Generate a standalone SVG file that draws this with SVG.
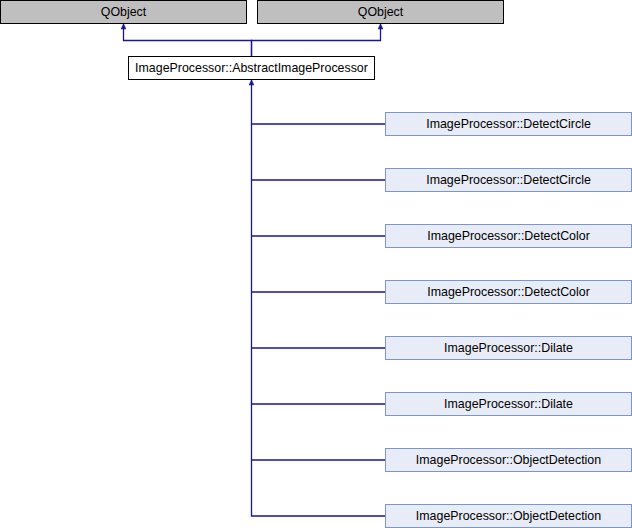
<svg xmlns="http://www.w3.org/2000/svg" width="632" height="528" viewBox="0 0 632 528">
<style>
text{font-family:"Liberation Sans",Arial,sans-serif;font-size:12.4px;fill:#000;text-anchor:middle}
.gray rect{fill:#bfbfbf;stroke:#000;stroke-width:1}
.main rect{fill:#fff;stroke:#000;stroke-width:1}
.child rect{fill:#e8ecf6;stroke:#7b96cf;stroke-width:1}
.edge{fill:none;stroke:#16169a;stroke-width:1.3}
</style>
<defs>
<marker id="ah" viewBox="0 0 10 10" refX="10" refY="5" markerWidth="7" markerHeight="5" markerUnits="userSpaceOnUse" orient="auto"><path d="M0,0 L10,5 L0,10 Z" fill="#16169a" stroke="#16169a"/></marker>
</defs>
<g id="edges">
<path class="edge" d="M251.5,56 V40.5 H123.5 V24" marker-end="url(#ah)"/>
<path class="edge" d="M251.5,56 V40.5 H380.5 V24" marker-end="url(#ah)"/>
<path class="edge" d="M385,124 H251.5 V80" marker-end="url(#ah)"/>
<path class="edge" d="M385,180 H251.5"/>
<path class="edge" d="M385,236 H251.5"/>
<path class="edge" d="M385,292 H251.5"/>
<path class="edge" d="M385,348 H251.5"/>
<path class="edge" d="M385,404 H251.5"/>
<path class="edge" d="M385,460 H251.5"/>
<path class="edge" d="M385,516 H251.5 V124"/>
</g>
<g id="qobject1" class="gray"><rect x="0.5" y="0.5" width="246" height="23"/><text x="123.5" y="15.5">QObject</text></g>
<g id="qobject2" class="gray"><rect x="257.5" y="0.5" width="246" height="23"/><text x="380.5" y="15.5">QObject</text></g>
<g id="abstract" class="main"><rect x="128.5" y="56.5" width="246" height="23"/><text x="251.5" y="71.5">ImageProcessor::AbstractImageProcessor</text></g>
<g id="detectcircle1" class="child"><rect x="385.5" y="112.5" width="246" height="23"/><text x="508.5" y="127.5">ImageProcessor::DetectCircle</text></g>
<g id="detectcircle2" class="child"><rect x="385.5" y="168.5" width="246" height="23"/><text x="508.5" y="183.5">ImageProcessor::DetectCircle</text></g>
<g id="detectcolor1" class="child"><rect x="385.5" y="224.5" width="246" height="23"/><text x="508.5" y="239.5">ImageProcessor::DetectColor</text></g>
<g id="detectcolor2" class="child"><rect x="385.5" y="280.5" width="246" height="23"/><text x="508.5" y="295.5">ImageProcessor::DetectColor</text></g>
<g id="dilate1" class="child"><rect x="385.5" y="336.5" width="246" height="23"/><text x="508.5" y="351.5">ImageProcessor::Dilate</text></g>
<g id="dilate2" class="child"><rect x="385.5" y="392.5" width="246" height="23"/><text x="508.5" y="407.5">ImageProcessor::Dilate</text></g>
<g id="objdet1" class="child"><rect x="385.5" y="448.5" width="246" height="23"/><text x="508.5" y="463.5">ImageProcessor::ObjectDetection</text></g>
<g id="objdet2" class="child"><rect x="385.5" y="504.5" width="246" height="23"/><text x="508.5" y="519.5">ImageProcessor::ObjectDetection</text></g>
</svg>
